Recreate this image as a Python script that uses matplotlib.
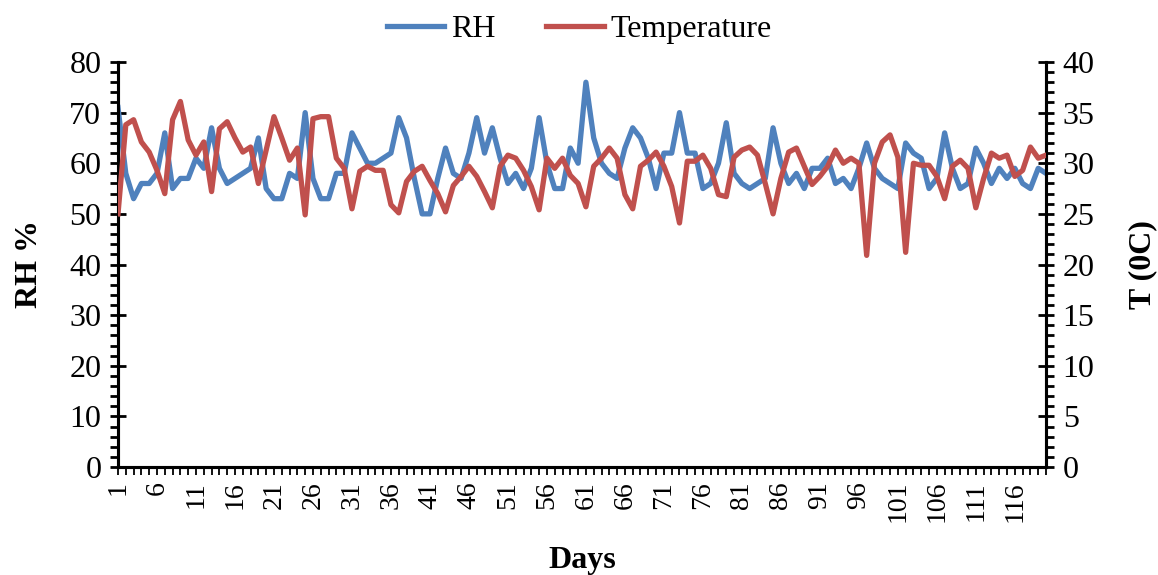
import matplotlib
matplotlib.use("Agg")
import matplotlib.pyplot as plt
from matplotlib.ticker import MultipleLocator, FixedLocator
import numpy as np

plt.rcParams['font.family'] = ['Liberation Serif', 'DejaVu Serif']

# daily readings, day 1..120
days = list(range(1, 121))
rh = [71, 58, 53, 56, 56, 58, 66, 55, 57, 57,
      61, 59, 67, 59, 56, 57, 58, 59, 65, 55,
      53, 53, 58, 57, 70, 57, 53, 53, 58, 58,
      66, 63, 60, 60, 61, 62, 69, 65, 57, 50,
      50, 57, 63, 58, 57, 62, 69, 62, 67, 61,
      56, 58, 55, 59, 69, 60, 55, 55, 63, 60,
      76, 65, 60, 58, 57, 63, 67, 65, 61, 55,
      62, 62, 70, 62, 62, 55, 56, 60, 68, 58,
      56, 55, 56, 57, 67, 60, 56, 58, 55, 59,
      59, 61, 56, 57, 55, 59, 64, 59, 57, 56,
      55, 64, 62, 61, 55, 57, 66, 59, 55, 56,
      63, 60, 56, 59, 57, 59, 56, 55, 59, 58]
temp = [25.0, 33.8, 34.3, 32.1, 31.1, 29.3, 27.0, 34.3, 36.1, 32.3,
        30.8, 32.1, 27.2, 33.4, 34.1, 32.5, 31.1, 31.6, 28.0, 31.3,
        34.6, 32.5, 30.3, 31.5, 24.9, 34.4, 34.6, 34.6, 30.5, 29.5,
        25.5, 29.2, 29.7, 29.3, 29.3, 25.9, 25.1, 28.2, 29.2, 29.7,
        28.3, 27.0, 25.2, 27.8, 28.7, 29.7, 28.7, 27.2, 25.6, 29.7,
        30.8, 30.5, 29.3, 27.7, 25.4, 30.5, 29.5, 30.5, 28.8, 28.0,
        25.7, 29.7, 30.5, 31.5, 30.5, 26.9, 25.5, 29.7, 30.3, 31.1,
        29.7, 27.7, 24.1, 30.2, 30.2, 30.8, 29.5, 26.9, 26.7, 30.6,
        31.3, 31.6, 30.8, 28.0, 25.0, 28.5, 31.1, 31.5, 29.7, 27.9,
        28.7, 29.7, 31.3, 30.0, 30.5, 30.0, 20.9, 30.0, 32.1, 32.8,
        30.6, 21.2, 30.0, 29.8, 29.8, 28.7, 26.5, 29.7, 30.3, 29.5,
        25.6, 28.5, 31.0, 30.5, 30.8, 28.7, 29.3, 31.6, 30.5, 30.8]
day_labels = [str(d) for d in range(1, 121, 5)]

blue = '#4F81BD'
red = '#C0504D'

fig = plt.figure(figsize=(11.58, 5.75), dpi=100)
ax = fig.add_axes([0.1019, 0.1878, 0.8014, 0.7044])
ax2 = ax.twinx()

l1, = ax.plot(days, rh, color=blue, lw=3.8, solid_joinstyle='round', label='RH', zorder=3)
l2, = ax2.plot(days, temp, color=red, lw=3.8, solid_joinstyle='round', label='Temperature', zorder=3)

ax.set_xlim(1, 120)
ax.set_ylim(0, 80)
ax2.set_ylim(0, 40)

# x axis: a tick for every day, label every fifth
ax.xaxis.set_major_locator(FixedLocator(range(1, 121, 5)))
ax.set_xticklabels(day_labels, rotation=90)
ax.xaxis.set_minor_locator(MultipleLocator(1))
ax.tick_params(axis='x', which='both', direction='out', length=6, width=1.3, labelsize=20, pad=4)

ax.yaxis.set_major_locator(MultipleLocator(10))
ax.yaxis.set_minor_locator(MultipleLocator(2))
ax.tick_params(axis='y', which='major', direction='inout', length=12, width=2, labelsize=23, pad=6)
ax.tick_params(axis='y', which='minor', direction='out', length=6, width=2)

ax2.yaxis.set_major_locator(MultipleLocator(5))
ax2.yaxis.set_minor_locator(MultipleLocator(1))
ax2.tick_params(axis='y', which='major', direction='inout', length=12, width=2, labelsize=23, pad=6)
ax2.tick_params(axis='y', which='minor', direction='out', length=6, width=2)

for a in (ax, ax2):
    a.spines['top'].set_visible(False)
    for s in ('left', 'right', 'bottom'):
        a.spines[s].set_linewidth(2.2)

ax.set_xlabel('Days', fontsize=23, fontweight='bold', labelpad=17)
ax.set_ylabel('RH %', fontsize=23, fontweight='bold', labelpad=18)
ax2.set_ylabel('T (0C)', fontsize=23, fontweight='bold', labelpad=24)

fig.legend(handles=[l1, l2], loc='upper center', bbox_to_anchor=(0.5, 1.025), ncol=2,
           frameon=False, fontsize=23, handlelength=1.8, columnspacing=1.6,
           handletextpad=0.2)

fig.savefig('out.png', dpi=100)
